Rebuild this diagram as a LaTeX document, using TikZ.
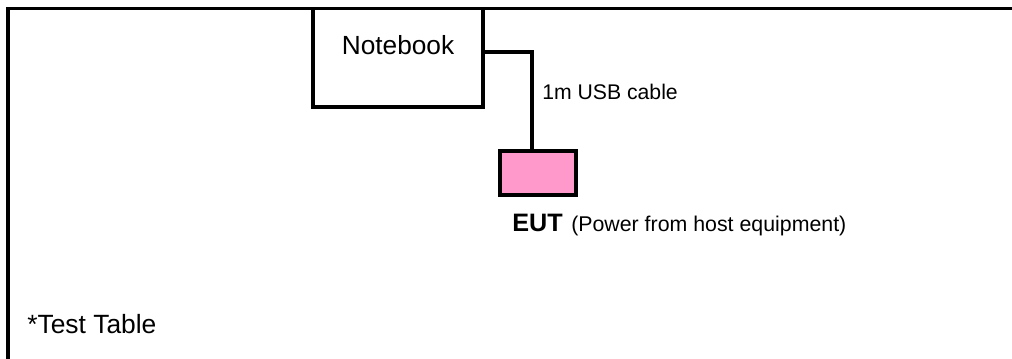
\documentclass[tikz,border=0pt]{standalone}
\usepackage{fontspec}
\setmainfont{Liberation Sans}
\definecolor{eutpink}{HTML}{FF99CC}
\begin{document}
\begin{tikzpicture}[x=0.75pt,y=-0.75pt,
  frame/.style={line width=2.7pt},
  boxstyle/.style={draw,line width=2.6pt,rectangle,inner sep=0pt},
  cablestyle/.style={line width=2.6pt},
  txt/.style={inner sep=0pt,anchor=base west}]
\useasboundingbox[fill=white] (0,0) rectangle (1012,358);
% test table frame (open to right and bottom)
\draw[frame] (1020,8.5) -- (8,8.5) -- (8,370);
% notebook
\node[boxstyle,fill=white,minimum width=170*0.75pt,minimum height=98.5*0.75pt] (nb) at (398,57.75) {};
\node[inner sep=0pt,anchor=base,font=\fontsize{19.7}{22}\selectfont] (nbtext) at (398,54) {Notebook};
% EUT
\node[boxstyle,fill=eutpink,minimum width=76*0.75pt,minimum height=44*0.75pt] (eut) at (538,173) {};
% cable
\coordinate (c1) at (532,52);
\draw[cablestyle] (nb.east |- c1) -- (c1) -- (c1 |- eut.north);
\node[txt,font=\fontsize{15.9}{18}\selectfont] (cable) at (542,99) {1m USB cable};
\node[txt,font=\fontsize{18.9}{22}\selectfont\bfseries] (eutlabel) at (512,231) {EUT};
\node[txt,font=\fontsize{16}{18}\selectfont] (euttext) at (571,231) {(Power from host equipment)};
\node[txt,font=\fontsize{19.8}{22}\selectfont] (table) at (27,333) {*Test Table};
\end{tikzpicture}
\end{document}
